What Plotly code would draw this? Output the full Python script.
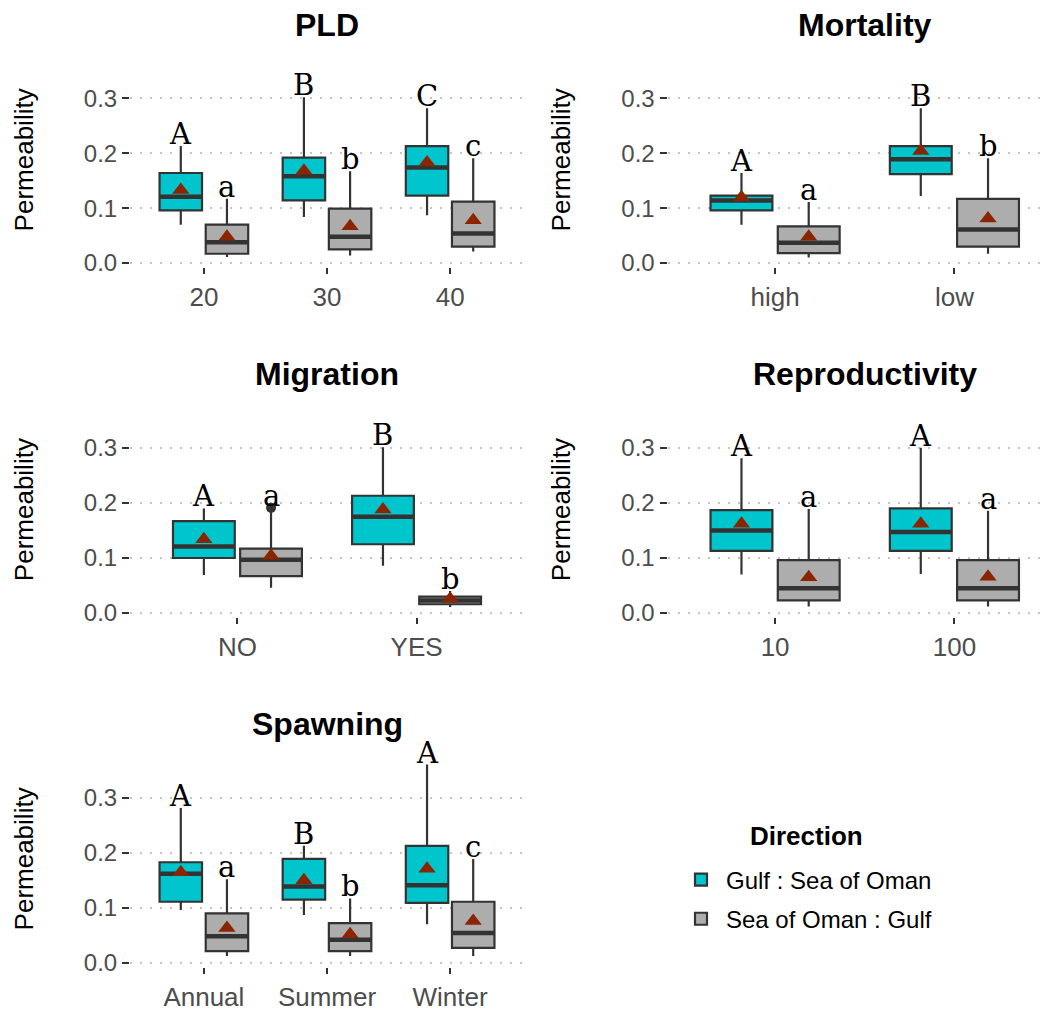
import plotly.graph_objects as go

# ---------------- data ----------------
directions = ["Gulf : Sea of Oman", "Sea of Oman : Gulf"]

pld_categories = ["20", "30", "40"]
pld_gulf_low = [0.070, 0.084, 0.087]
pld_gulf_q1 = [0.096, 0.114, 0.123]
pld_gulf_med = [0.121, 0.158, 0.174]
pld_gulf_q3 = [0.164, 0.192, 0.213]
pld_gulf_high = [0.213, 0.302, 0.282]
pld_gulf_mean = [0.133, 0.168, 0.183]
pld_gulf_letters = ["A", "B", "C"]
pld_oman_low = [0.011, 0.014, 0.021]
pld_oman_q1 = [0.017, 0.025, 0.030]
pld_oman_med = [0.038, 0.048, 0.054]
pld_oman_q3 = [0.070, 0.099, 0.112]
pld_oman_high = [0.117, 0.167, 0.191]
pld_oman_mean = [0.048, 0.067, 0.078]
pld_oman_letters = ["a", "b", "c"]

mort_categories = ["high", "low"]
mort_gulf_low = [0.070, 0.122]
mort_gulf_q1 = [0.096, 0.162]
mort_gulf_med = [0.114, 0.189]
mort_gulf_q3 = [0.123, 0.213]
mort_gulf_high = [0.164, 0.282]
mort_gulf_mean = [0.120, 0.204]
mort_gulf_letters = ["A", "B"]
mort_oman_low = [0.010, 0.017]
mort_oman_q1 = [0.018, 0.030]
mort_oman_med = [0.037, 0.061]
mort_oman_q3 = [0.067, 0.117]
mort_oman_high = [0.111, 0.191]
mort_oman_mean = [0.048, 0.081]
mort_oman_letters = ["a", "b"]

mig_categories = ["NO", "YES"]
mig_gulf_low = [0.069, 0.086]
mig_gulf_q1 = [0.100, 0.125]
mig_gulf_med = [0.121, 0.175]
mig_gulf_q3 = [0.167, 0.213]
mig_gulf_high = [0.190, 0.301]
mig_gulf_mean = [0.134, 0.188]
mig_gulf_letters = ["A", "B"]
mig_oman_low = [0.046, 0.011]
mig_oman_q1 = [0.067, 0.016]
mig_oman_med = [0.097, 0.023]
mig_oman_q3 = [0.117, 0.030]
mig_oman_high = [0.184, 0.040]
mig_oman_mean = [0.104, 0.026]
mig_oman_outliers = [0.191, None]
mig_oman_letters = ["a", "b"]

rep_categories = ["10", "100"]
rep_gulf_low = [0.070, 0.071]
rep_gulf_q1 = [0.113, 0.113]
rep_gulf_med = [0.150, 0.147]
rep_gulf_q3 = [0.187, 0.190]
rep_gulf_high = [0.281, 0.300]
rep_gulf_mean = [0.162, 0.162]
rep_gulf_letters = ["A", "A"]
rep_oman_low = [0.012, 0.012]
rep_oman_q1 = [0.023, 0.023]
rep_oman_med = [0.045, 0.045]
rep_oman_q3 = [0.096, 0.096]
rep_oman_high = [0.189, 0.186]
rep_oman_mean = [0.065, 0.066]
rep_oman_letters = ["a", "a"]

spawn_categories = ["Annual", "Summer", "Winter"]
spawn_gulf_low = [0.096, 0.087, 0.070]
spawn_gulf_q1 = [0.111, 0.115, 0.109]
spawn_gulf_med = [0.162, 0.139, 0.141]
spawn_gulf_q3 = [0.183, 0.189, 0.213]
spawn_gulf_high = [0.282, 0.213, 0.361]
spawn_gulf_mean = [0.165, 0.150, 0.171]
spawn_gulf_letters = ["A", "B", "A"]
spawn_oman_low = [0.012, 0.012, 0.012]
spawn_oman_q1 = [0.021, 0.021, 0.027]
spawn_oman_med = [0.048, 0.042, 0.054]
spawn_oman_q3 = [0.090, 0.072, 0.111]
spawn_oman_high = [0.152, 0.117, 0.189]
spawn_oman_mean = [0.063, 0.052, 0.076]
spawn_oman_letters = ["a", "b", "c"]

y_tick_values = [0.0, 0.1, 0.2, 0.3]
y_tick_labels = ["0.0", "0.1", "0.2", "0.3"]

# ---------------- styling / layout ----------------
W, H = 1047, 1012
GULF_FILL = "#00C5CD"
OMAN_FILL = "#ADADAD"
LINE = "#333333"
MEAN_COLOR = "#8B2500"
SANS = "Liberation Sans, Arial, sans-serif"
SERIF = "DejaVu Serif, serif"
DODGE = 0.1875
BOX_W = 0.345

panels = [
    dict(title="PLD", cats=pld_categories, col=0, row=0,
         gulf=(pld_gulf_low, pld_gulf_q1, pld_gulf_med, pld_gulf_q3, pld_gulf_high, pld_gulf_mean, pld_gulf_letters),
         oman=(pld_oman_low, pld_oman_q1, pld_oman_med, pld_oman_q3, pld_oman_high, pld_oman_mean, pld_oman_letters),
         outliers=None),
    dict(title="Mortality", cats=mort_categories, col=1, row=0,
         gulf=(mort_gulf_low, mort_gulf_q1, mort_gulf_med, mort_gulf_q3, mort_gulf_high, mort_gulf_mean, mort_gulf_letters),
         oman=(mort_oman_low, mort_oman_q1, mort_oman_med, mort_oman_q3, mort_oman_high, mort_oman_mean, mort_oman_letters),
         outliers=None),
    dict(title="Migration", cats=mig_categories, col=0, row=1,
         gulf=(mig_gulf_low, mig_gulf_q1, mig_gulf_med, mig_gulf_q3, mig_gulf_high, mig_gulf_mean, mig_gulf_letters),
         oman=(mig_oman_low, mig_oman_q1, mig_oman_med, mig_oman_q3, mig_oman_high, mig_oman_mean, mig_oman_letters),
         outliers=mig_oman_outliers),
    dict(title="Reproductivity", cats=rep_categories, col=1, row=1,
         gulf=(rep_gulf_low, rep_gulf_q1, rep_gulf_med, rep_gulf_q3, rep_gulf_high, rep_gulf_mean, rep_gulf_letters),
         oman=(rep_oman_low, rep_oman_q1, rep_oman_med, rep_oman_q3, rep_oman_high, rep_oman_mean, rep_oman_letters),
         outliers=None),
    dict(title="Spawning", cats=spawn_categories, col=0, row=2,
         gulf=(spawn_gulf_low, spawn_gulf_q1, spawn_gulf_med, spawn_gulf_q3, spawn_gulf_high, spawn_gulf_mean, spawn_gulf_letters),
         oman=(spawn_oman_low, spawn_oman_q1, spawn_oman_med, spawn_oman_q3, spawn_oman_high, spawn_oman_mean, spawn_oman_letters),
         outliers=None),
]

# pixel geometry of the panels (left, right) and (top, bottom, y of 0.0, y of 0.3)
COLS = [(130.0, 524.0), (667.5, 1062.0)]
ROWS = [(54.0, 270.0, 265.7, 99.3), (407.0, 623.5, 619.2, 452.3), (759.0, 977.0, 972.3, 806.0)]
TITLE_Y = [25.0, 378.0, 731.0]
YLABEL_X = [24.0, 561.0]

fig = go.Figure()
annotations = []
layout_axes = {}

for k, p in enumerate(panels, start=1):
    xa, ya = f"x{k}", f"y{k}"
    n = len(p["cats"])
    left, right = COLS[p["col"]]
    top, bottom, y0px, y3px = ROWS[p["row"]]
    units = n + 0.2
    ppu = (right - left) / units
    vis_right = min(right, W)
    xrange = [-0.6, -0.6 + (vis_right - left) / ppu]
    yscale = (y0px - y3px) / 0.3
    yrange = [-(bottom - y0px) / yscale, (y0px - top) / yscale]

    for d_i, (stats, fill, off) in enumerate([(p["gulf"], GULF_FILL, -DODGE), (p["oman"], OMAN_FILL, DODGE)]):
        low, q1, med, q3, high, mean, letters = stats
        xs = [i + off for i in range(n)]
        fig.add_trace(go.Box(
            x=xs, lowerfence=low, q1=q1, median=med, q3=q3, upperfence=high,
            width=BOX_W, fillcolor=fill, line=dict(color=LINE, width=2.2),
            whiskerwidth=0, boxpoints=False, name=directions[d_i],
            legendgroup=directions[d_i], showlegend=(k == 1),
            xaxis=xa, yaxis=ya, hoverinfo="skip"))
        # thicker median bar (ggplot style)
        mx, my = [], []
        for x, m in zip(xs, med):
            mx += [x - BOX_W / 2, x + BOX_W / 2, None]
            my += [m, m, None]
        fig.add_trace(go.Scatter(x=mx, y=my, mode="lines", line=dict(color=LINE, width=4.5),
                                 showlegend=False, xaxis=xa, yaxis=ya, hoverinfo="skip"))
        if d_i == 1 and p["outliers"] is not None:
            ox = [x for x, o in zip(xs, p["outliers"]) if o is not None]
            oy = [o for o in p["outliers"] if o is not None]
            fig.add_trace(go.Scatter(x=ox, y=oy, mode="markers",
                                     marker=dict(color=LINE, size=10, symbol="circle"),
                                     showlegend=False, xaxis=xa, yaxis=ya))
        fig.add_trace(go.Scatter(x=xs, y=mean, mode="markers",
                                 marker=dict(color=MEAN_COLOR, size=15, symbol="triangle-up"),
                                 showlegend=False, xaxis=xa, yaxis=ya))
        for i, (x, h, lab) in enumerate(zip(xs, high, letters)):
            top_val = h
            if d_i == 1 and p["outliers"] is not None and p["outliers"][i] is not None:
                top_val = max(h, p["outliers"][i])
            annotations.append(dict(x=x, y=top_val, xref=xa, yref=ya, text=lab, showarrow=False,
                                    yanchor="bottom", xanchor="center", yshift=-7,
                                    font=dict(family=SERIF, size=29, color="black")))

    layout_axes[f"xaxis{k}"] = dict(
        domain=[left / W, vis_right / W], range=xrange, anchor=ya,
        tickmode="array", tickvals=list(range(n)), ticktext=p["cats"],
        ticks="outside", ticklen=6, tickwidth=2, tickcolor=LINE,
        showgrid=False, zeroline=False, showline=False,
        tickfont=dict(family=SANS, size=26, color="#4D4D4D"))
    layout_axes[f"yaxis{k}"] = dict(
        domain=[1 - bottom / H, 1 - top / H], range=yrange, anchor=xa,
        tickmode="array", tickvals=y_tick_values, ticktext=y_tick_labels,
        ticks="outside", ticklen=7, tickwidth=2, tickcolor=LINE,
        showgrid=True, gridcolor="#C4C4C4", gridwidth=2, griddash="2px,8px",
        zeroline=False, showline=False,
        tickfont=dict(family=SANS, size=24, color="#4D4D4D"))

    annotations.append(dict(x=(left + right) / 2 / W, y=1 - TITLE_Y[p["row"]] / H, xref="paper", yref="paper",
                            text=f"<b>{p['title']}</b>", showarrow=False, xanchor="center", yanchor="middle",
                            font=dict(family=SANS, size=32, color="black")))
    annotations.append(dict(x=YLABEL_X[p["col"]] / W, y=1 - (top + bottom) / 2 / H, xref="paper", yref="paper",
                            text="Permeability", textangle=-90, showarrow=False,
                            xanchor="center", yanchor="middle",
                            font=dict(family=SANS, size=26, color="black")))

# legend title (centred above the keys, as in the reference)
annotations.append(dict(x=806 / W, y=1 - 844 / H, xref="paper", yref="paper", text="<b>Direction</b>",
                        showarrow=False, xanchor="center", yanchor="middle",
                        font=dict(family=SANS, size=26, color="black")))

fig.update_layout(
    width=W, height=H, margin=dict(l=0, r=0, t=0, b=0),
    paper_bgcolor="white", plot_bgcolor="white",
    annotations=annotations,
    legend=dict(x=676 / W, y=1 - 866 / H, xanchor="left", yanchor="top",
                font=dict(family=SANS, size=24, color="black"),
                bgcolor="rgba(0,0,0,0)", traceorder="grouped", itemwidth=40,
                tracegroupgap=5),
    **layout_axes,
)

fig.write_html("out.html")
